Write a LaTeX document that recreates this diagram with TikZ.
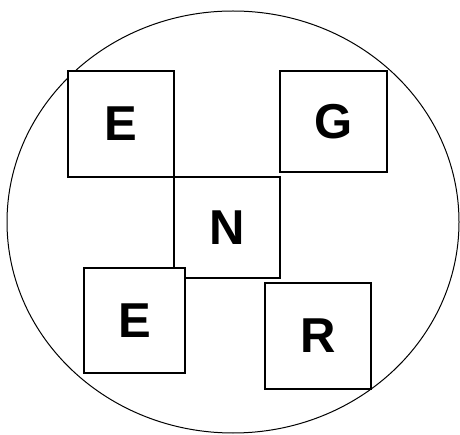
\documentclass[tikz,border=0pt]{standalone}
\usepackage{fontspec}
\setmainfont{Liberation Sans}
\usepackage{tikz}
\usetikzlibrary{calc}

\begin{document}
\begin{tikzpicture}[x=1pt,y=-1pt,
    letterbox/.style={draw, fill=white, line width=1.1pt, rectangle, inner sep=0pt,
        font=\bfseries\fontsize{49}{49}\selectfont}]
            \useasboundingbox (0,0) rectangle (460,435);
            %Outline
            \coordinate (c) at (233,222);
            \draw[line width=1pt] (c) ellipse (226 and 211);
            %Boxes
            \node[letterbox, minimum width=106pt, minimum height=106pt] (e1) at (121,124) {E};
            \node[letterbox, minimum width=107pt, minimum height=101pt] (g) at (333.5,121.5) {G};
            \node[letterbox, minimum width=106pt, minimum height=101pt] (n) at (227,227.5) {N};
            \node[letterbox, minimum width=101pt, minimum height=105pt] (e2) at (134.5,320.5) {E};
            \node[letterbox, minimum width=106pt, minimum height=106pt] (r) at (318,336) {R};
        \end{tikzpicture}
\end{document}
